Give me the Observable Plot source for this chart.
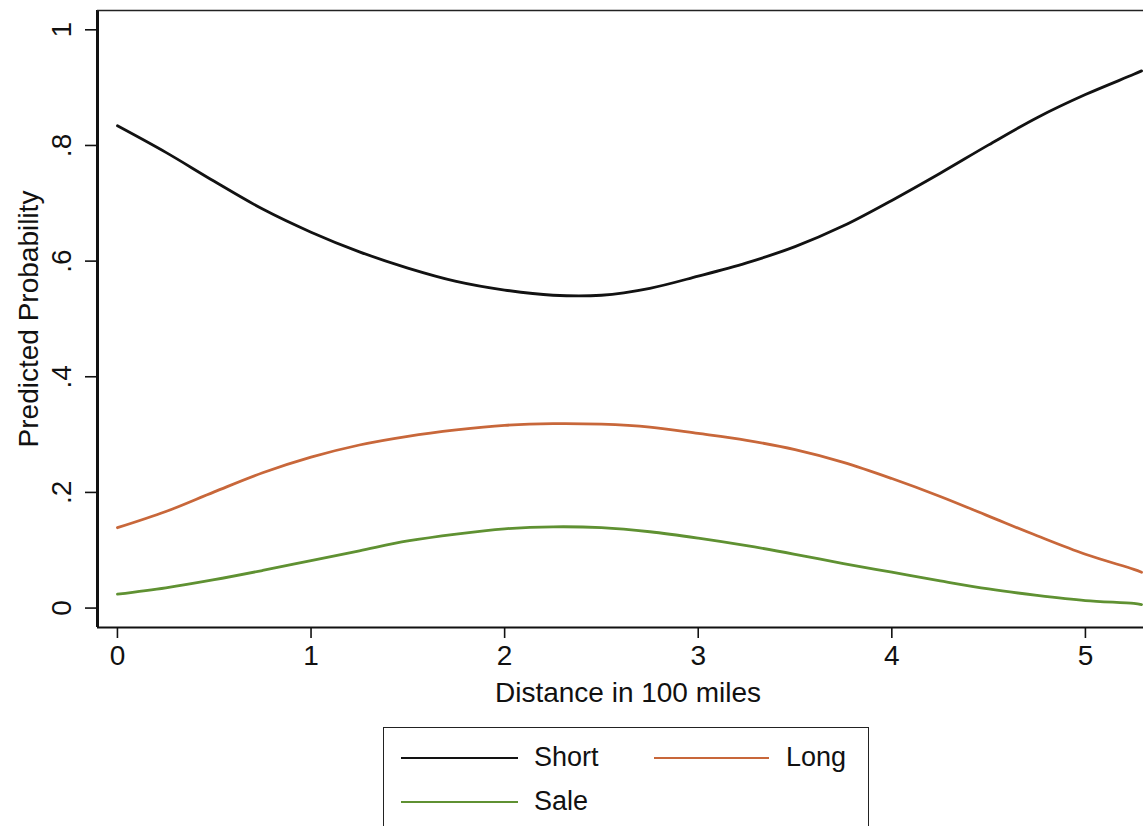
<!DOCTYPE html>
<html>
<head>
<meta charset="utf-8">
<script src="https://cdn.jsdelivr.net/npm/d3@7"></script>
<script src="https://cdn.jsdelivr.net/npm/@observablehq/plot@0.6"></script>
<style>
  html, body { margin: 0; padding: 0; background: #fff; overflow: hidden; }
  #wrap { position: relative; width: 1143px; height: 826px; font-family: "Liberation Sans", Arial, sans-serif; color: #111; }
  #legend { position: absolute; left: 383px; top: 727px; width: 486px; height: 130px; border: 1.5px solid #222; box-sizing: border-box; }
  .sw { position: absolute; height: 2px; }
  .lab { position: absolute; font-size: 27px; line-height: 32px; white-space: nowrap; }
</style>
</head>
<body>
<div id="wrap"></div>
<script>
// ---- data ----
const distance = [0, 0.25, 0.5, 0.75, 1, 1.25, 1.5, 1.75, 2, 2.25, 2.5, 2.75, 3, 3.25, 3.5, 3.75, 4, 4.25, 4.5, 4.75, 5, 5.25, 5.29];
const shortP = [0.834, 0.788, 0.738, 0.690, 0.650, 0.616, 0.588, 0.565, 0.550, 0.541, 0.541, 0.553, 0.574, 0.597, 0.625, 0.661, 0.705, 0.752, 0.801, 0.848, 0.888, 0.923, 0.929];
const longP  = [0.139, 0.167, 0.201, 0.234, 0.261, 0.282, 0.297, 0.308, 0.316, 0.319, 0.318, 0.313, 0.302, 0.290, 0.274, 0.252, 0.224, 0.193, 0.159, 0.125, 0.093, 0.067, 0.062];
const saleP  = [0.024, 0.035, 0.049, 0.065, 0.082, 0.099, 0.116, 0.128, 0.137, 0.1405, 0.139, 0.132, 0.121, 0.108, 0.093, 0.077, 0.062, 0.047, 0.033, 0.022, 0.013, 0.008, 0.006];

const seriesNames = ["Short", "Long", "Sale"];
const seriesColors = ["#121212", "#c8673a", "#5f9132"];

const xTicks = [0, 1, 2, 3, 4, 5];
const xTickLabels = ["0", "1", "2", "3", "4", "5"];
const yTicks = [0, 0.2, 0.4, 0.6, 0.8, 1];
const yTickLabels = ["0", ".2", ".4", ".6", ".8", "1"];

const xLabel = "Distance in 100 miles";
const yLabel = "Predicted Probability";

const xDomain = [-0.103, 5.30];
const yDomain = [-0.0336, 1.0334];

// ---- build table ----
const seriesValues = [shortP, longP, saleP];
const rows = [];
seriesNames.forEach((name, s) => {
  distance.forEach((d, i) => rows.push({series: name, distance: d, p: seriesValues[s][i]}));
});

const font = "Liberation Sans, Arial, sans-serif";

const chart = Plot.plot({
  width: 1143,
  height: 710,
  marginLeft: 97,
  marginRight: 0,
  marginTop: 10,
  marginBottom: 83,
  style: {fontFamily: font, fontSize: "28px", background: "white", color: "#111"},
  x: {domain: xDomain, label: null},
  y: {domain: yDomain, label: null},
  color: {domain: seriesNames, range: seriesColors},
  marks: [
    Plot.axisX(xTicks, {tickSize: 11, tickPadding: 7, fontSize: 28, strokeWidth: 1.6, label: null,
      tickFormat: d => xTickLabels[xTicks.indexOf(d)]}),
    Plot.axisY(yTicks, {tickSize: 12, tickFormat: () => "", strokeWidth: 1.6, label: null}),
    Plot.text(yTicks, {y: d => d, text: (d, i) => yTickLabels[i], frameAnchor: "left", dx: -35.5, rotate: -90, fontSize: 28, textAnchor: "middle", lineAnchor: "middle"}),
    Plot.text([yLabel], {text: d => d, frameAnchor: "left", dx: -68, dy: 0, rotate: -90, fontSize: 28, textAnchor: "middle", lineAnchor: "middle"}),
    Plot.text([xLabel], {text: d => d, frameAnchor: "bottom", dx: 7.5, dy: 66, fontSize: 28, textAnchor: "middle", lineAnchor: "middle"}),
    Plot.ruleX([xDomain[0]], {stroke: "#111", strokeWidth: 3}),
    Plot.ruleY([yDomain[0]], {stroke: "#111", strokeWidth: 2}),
    Plot.ruleY([yDomain[1]], {stroke: "#222", strokeWidth: 1.6}),
    Plot.line(rows, {x: "distance", y: "p", z: "series", stroke: "series", strokeWidth: 2.8, curve: "catmull-rom"})
  ]
});

const wrap = document.getElementById("wrap");
wrap.appendChild(chart);

// ---- legend (HTML, below the SVG) ----
const legend = document.createElement("div");
legend.id = "legend";
const items = [
  {name: seriesNames[0], color: seriesColors[0], lineLeft: 17, lineW: 117, textLeft: 150, cy: 30},
  {name: seriesNames[1], color: seriesColors[1], lineLeft: 270, lineW: 115, textLeft: 402, cy: 30},
  {name: seriesNames[2], color: seriesColors[2], lineLeft: 17, lineW: 117, textLeft: 150, cy: 73.5}
];
items.forEach(it => {
  const sw = document.createElement("div");
  sw.className = "sw";
  sw.style.left = it.lineLeft + "px";
  sw.style.width = it.lineW + "px";
  sw.style.top = (it.cy - 1) + "px";
  sw.style.background = it.color;
  legend.appendChild(sw);
  const t = document.createElement("div");
  t.className = "lab";
  t.textContent = it.name;
  t.style.left = it.textLeft + "px";
  t.style.top = (it.cy - 17) + "px";
  legend.appendChild(t);
});
wrap.appendChild(legend);
</script>
</body>
</html>
